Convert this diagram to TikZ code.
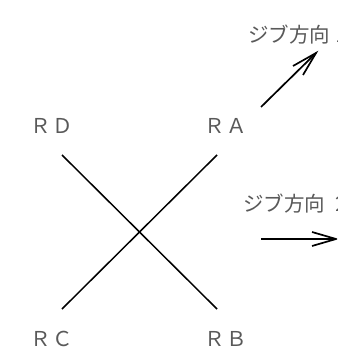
\documentclass[tikz,border=0pt]{standalone}
\usepackage{fontspec}
\newfontfamily\cjk{Noto Sans CJK JP}
\tikzset{
  lbl/.style={inner sep=0pt, text=black!65, font=\cjk\fontsize{20.5}{20.5}\selectfont, anchor=west},
  ln/.style={line width=1.5pt, black},
  hd/.style={line width=1.7pt, black}
}
\begin{document}
\begin{tikzpicture}[x=1pt,y=-1pt]
\useasboundingbox (0,0) rectangle (337,347);
\clip (0,0) rectangle (337,347);
\node[lbl] (rd) at (30,125.5) {Ｒ\hspace{1.5pt}Ｄ};
\node[lbl] (ra) at (204.5,125.5) {Ｒ\hspace{1.5pt}Ａ};
\node[lbl] (rc) at (30,338.5) {Ｒ\hspace{1.5pt}Ｃ};
\node[lbl] (rb) at (204.5,338.5) {Ｒ\hspace{1.5pt}Ｂ};
\node[lbl] (j1) at (248,35) {ジブ方向\hspace{2pt}１};
\node[lbl] (j2) at (243,204) {ジブ方向\hspace{6pt}２};
\coordinate (a) at (217,155);
\coordinate (b) at (217,309);
\coordinate (c) at (62,309);
\coordinate (d) at (62,155);
\draw[ln] (d) -- (b);
\draw[ln] (c) -- (a);
\coordinate (s1) at (261,107);
\coordinate (e1) at (316,53);
\draw[hd] (s1) -- (e1);
\draw[hd] (293,66) -- (e1) -- (303,75);
\coordinate (s2) at (261,239);
\coordinate (e2) at (336,239);
\draw[hd] (s2) -- (e2);
\draw[hd] (312,232) -- (e2) -- (312,246);
\end{tikzpicture}
\end{document}
